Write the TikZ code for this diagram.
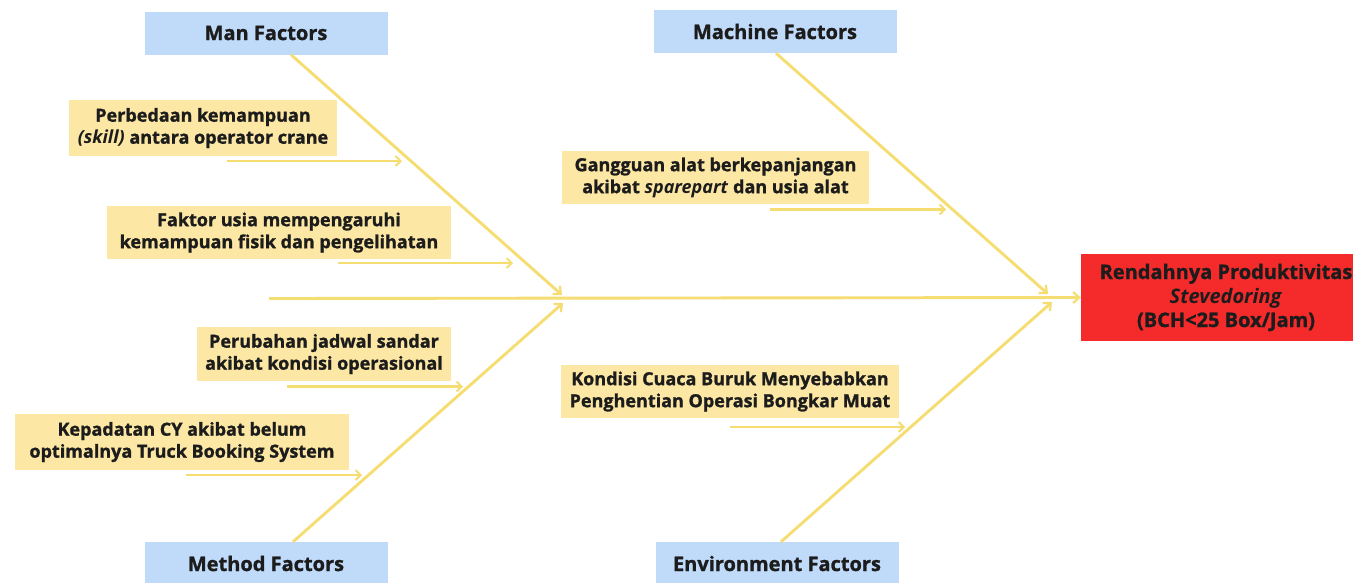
\documentclass[tikz,border=0pt]{standalone}
\usepackage{fontspec}
\setmainfont{Open Sans}[BoldFeatures={FakeBold=1.2}]
\usetikzlibrary{arrows.meta}

\definecolor{boneyellow}{HTML}{F6DD72}
\definecolor{causefill}{HTML}{FCE7A4}
\definecolor{factorfill}{HTML}{C0DBFA}
\definecolor{headred}{HTML}{F52B2B}
\definecolor{inkdark}{HTML}{1C1C1C}

\begin{document}
\begin{tikzpicture}[x=1pt, y=-1pt, text=inkdark,
    font=\bfseries\fontsize{18}{22}\selectfont,
    factor/.style={fill=factorfill, minimum width=243pt, minimum height=43pt,
        inner sep=0pt, font=\bfseries\fontsize{20}{20}\selectfont},
    cause/.style={fill=causefill, align=center, inner sep=0pt},
    effect/.style={fill=headred, align=center, inner sep=0pt,
        font=\bfseries\fontsize{20}{24}\selectfont},
    bone/.style={draw=boneyellow, line width=2.9pt,
        -{Straight Barb[length=6pt,width=11pt,line width=2.2pt]}},
    twig/.style={draw=boneyellow, line width=2.7pt,
        -{Straight Barb[length=5pt,width=10pt,line width=2pt]}}]

        % Area del disegno
        \clip (0,0) rectangle (1353,582);
        \fill[white] (0,0) rectangle (1353,582);

        % Categorie
        \node[factor] (man) at (266,33) {Man Factors};
        \node[factor] (machine) at (775,31.5) {Machine Factors};
        \node[factor] (method) at (266,563.5) {Method Factors};
        \node[factor] (environment) at (777,563.5) {Environment Factors};

        % Effetto (tagliato dal bordo destro)
        \node[effect, minimum width=290pt, minimum height=87pt] (effect) at (1226,297.5)
            {Rendahnya Produktivitas\\ \textit{Stevedoring}\\ (BCH<25 Box/Jam)};

        % Cause
        \node[cause, minimum width=268pt, minimum height=56pt] (skill) at (203,128)
            {Perbedaan kemampuan\\ \textit{(skill)} antara operator crane};
        \node[cause, minimum width=344pt, minimum height=53pt] (usia) at (279,232.5)
            {Faktor usia mempengaruhi\\ kemampuan fisik dan pengelihatan};
        \node[cause, minimum width=307pt, minimum height=53pt] (alat) at (715.5,177.5)
            {Gangguan alat berkepanjangan\\ akibat \textit{sparepart} dan usia alat};
        \node[cause, minimum width=254pt, minimum height=54pt] (jadwal) at (324,354)
            {Perubahan jadwal sandar\\ akibat kondisi operasional};
        \node[cause, minimum width=334pt, minimum height=56pt] (cy) at (182,442)
            {Kepadatan CY akibat belum\\ optimalnya Truck Booking System};
        \node[cause, minimum width=338pt, minimum height=53pt] (cuaca) at (730,391.5)
            {Kondisi Cuaca Buruk Menyebabkan\\ Penghentian Operasi Bongkar Muat};

        % Punti sulla spina
        \coordinate (spinestart) at (269,298.5);
        \coordinate (mantip) at (562,295);
        \coordinate (machinetip) at (1048,294);
        \coordinate (methodtip) at (563,303);
        \coordinate (environmenttip) at (1052,302);

        % Spina principale e ossa
        \draw[bone] (spinestart) -- (effect.west);
        \draw[bone] ([xshift=25pt]man.south) -- (mantip);
        \draw[bone] ([xshift=1pt]machine.south) -- (machinetip);
        \draw[bone] ([xshift=27pt]method.north) -- (methodtip);
        \draw[bone] ([xshift=4pt]environment.north) -- (environmenttip);

        % Frecce delle cause
        \coordinate (skillA) at (227,161);  \coordinate (skillB) at (402,161);
        \coordinate (usiaA) at (338,263);   \coordinate (usiaB) at (513,263);
        \coordinate (alatA) at (770,209.5); \coordinate (alatB) at (946,209.5);
        \coordinate (jadwalA) at (287,386.5); \coordinate (jadwalB) at (463,386.5);
        \coordinate (cyA) at (186,475);     \coordinate (cyB) at (362,475);
        \coordinate (cuacaA) at (730,427);  \coordinate (cuacaB) at (905,427);

        \draw[twig] (skillA) -- (skillB);
        \draw[twig] (usiaA) -- (usiaB);
        \draw[twig] (alatA) -- (alatB);
        \draw[twig] (jadwalA) -- (jadwalB);
        \draw[twig] (cyA) -- (cyB);
        \draw[twig] (cuacaA) -- (cuacaB);

    \end{tikzpicture}
\end{document}
